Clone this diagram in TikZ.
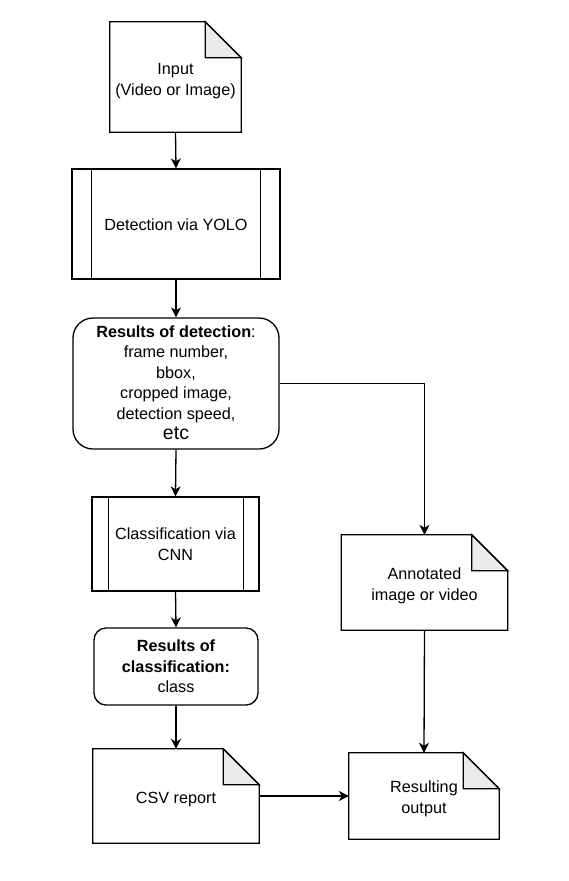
\documentclass[tikz,border=0pt]{standalone}
\usepackage{fontspec}
\setmainfont{Liberation Sans}
\usetikzlibrary{arrows.meta,calc}
\newcommand{\lowtext}[2]{\raisebox{-#1}[\height][\depth]{\begin{tabular}{@{}c@{}}#2\end{tabular}}}
\begin{document}
\begin{tikzpicture}[x=1pt,y=-1pt,
  base/.style={line width=1.3pt, draw=black},
  box/.style={inner sep=0pt, align=center, font=\fontsize{16.2}{20.5}\selectfont, text=black},
  notebox/.style={box, draw=none},
  procbox/.style={box, base, rectangle},
  roundbox/.style={box, base, rectangle, rounded corners=#1},
  arr/.style={base, -{Stealth[length=10pt,width=10pt,inset=3pt]}},
  fold/.style={base, fill=black!8, line join=miter}
]
\useasboundingbox (0,0) rectangle (568,881);

\newcommand{\notedraw}[1]{%
  \draw[base] (#1.north west) -- ([xshift=-36pt]#1.north east) -- ([yshift=-36pt]#1.north east) -- (#1.south east) -- (#1.south west) -- cycle;
  \draw[fold] ([xshift=-36pt]#1.north east) -- ([yshift=-36pt]#1.north east) -- ([xshift=-36pt,yshift=-36pt]#1.north east) -- cycle;
}

\node[notebox, minimum width=131pt, minimum height=110pt] (inp) at (175.5,77) {\lowtext{4pt}{Input\\(Video or Image)}};
\notedraw{inp}

\node[procbox, minimum width=208pt, minimum height=110pt] (det) at (176,224) {\lowtext{2pt}{Detection via YOLO}};
\draw[base] ([xshift=20pt]det.north west) -- ([xshift=20pt]det.south west);
\draw[base] ([xshift=-20pt]det.north east) -- ([xshift=-20pt]det.south east);

\node[roundbox=20pt, minimum width=206pt, minimum height=131pt] (resd) at (176,383.5)
  {\lowtext{1pt}{\textbf{Results of detection}:\\frame number,\\bbox,\\cropped image,\\detection speed,\\{\fontsize{19.5}{20.5}\selectfont etc}}};

\node[procbox, minimum width=167pt, minimum height=94pt] (cls) at (175.5,544) {\lowtext{2pt}{Classification via\\CNN}};
\draw[base] ([xshift=17pt]cls.north west) -- ([xshift=17pt]cls.south west);
\draw[base] ([xshift=-16pt]cls.north east) -- ([xshift=-16pt]cls.south east);

\node[roundbox=12pt, minimum width=164pt, minimum height=77pt] (resc) at (176,666.5)
  {\lowtext{1.5pt}{\textbf{Results of}\\\textbf{classification:}\\class}};

\node[notebox, minimum width=166pt, minimum height=95pt] (ann) at (424.5,582.5) {\lowtext{3.5pt}{Annotated\\image or video}};
\notedraw{ann}

\node[notebox, minimum width=166pt, minimum height=94pt] (csv) at (176,796) {\lowtext{3pt}{CSV report}};
\notedraw{csv}

\node[notebox, minimum width=150pt, minimum height=86pt] (out) at (424,796) {\lowtext{3pt}{Resulting\\output}};
\notedraw{out}

\draw[arr] (inp.south) -- (det.north);
\draw[arr] (det.south) -- (resd.north);
\draw[arr] (resd.south) -- (cls.north);
\draw[arr] (cls.south) -- (resc.north);
\draw[arr] (resc.south) -- (csv.north);
\draw[arr] (resd.east) -- (ann.north |- resd.east) -- (ann.north);
\draw[arr] (ann.south) -- (out.north);
\draw[arr] (csv.east) -- (out.west);
\end{tikzpicture}
\end{document}
